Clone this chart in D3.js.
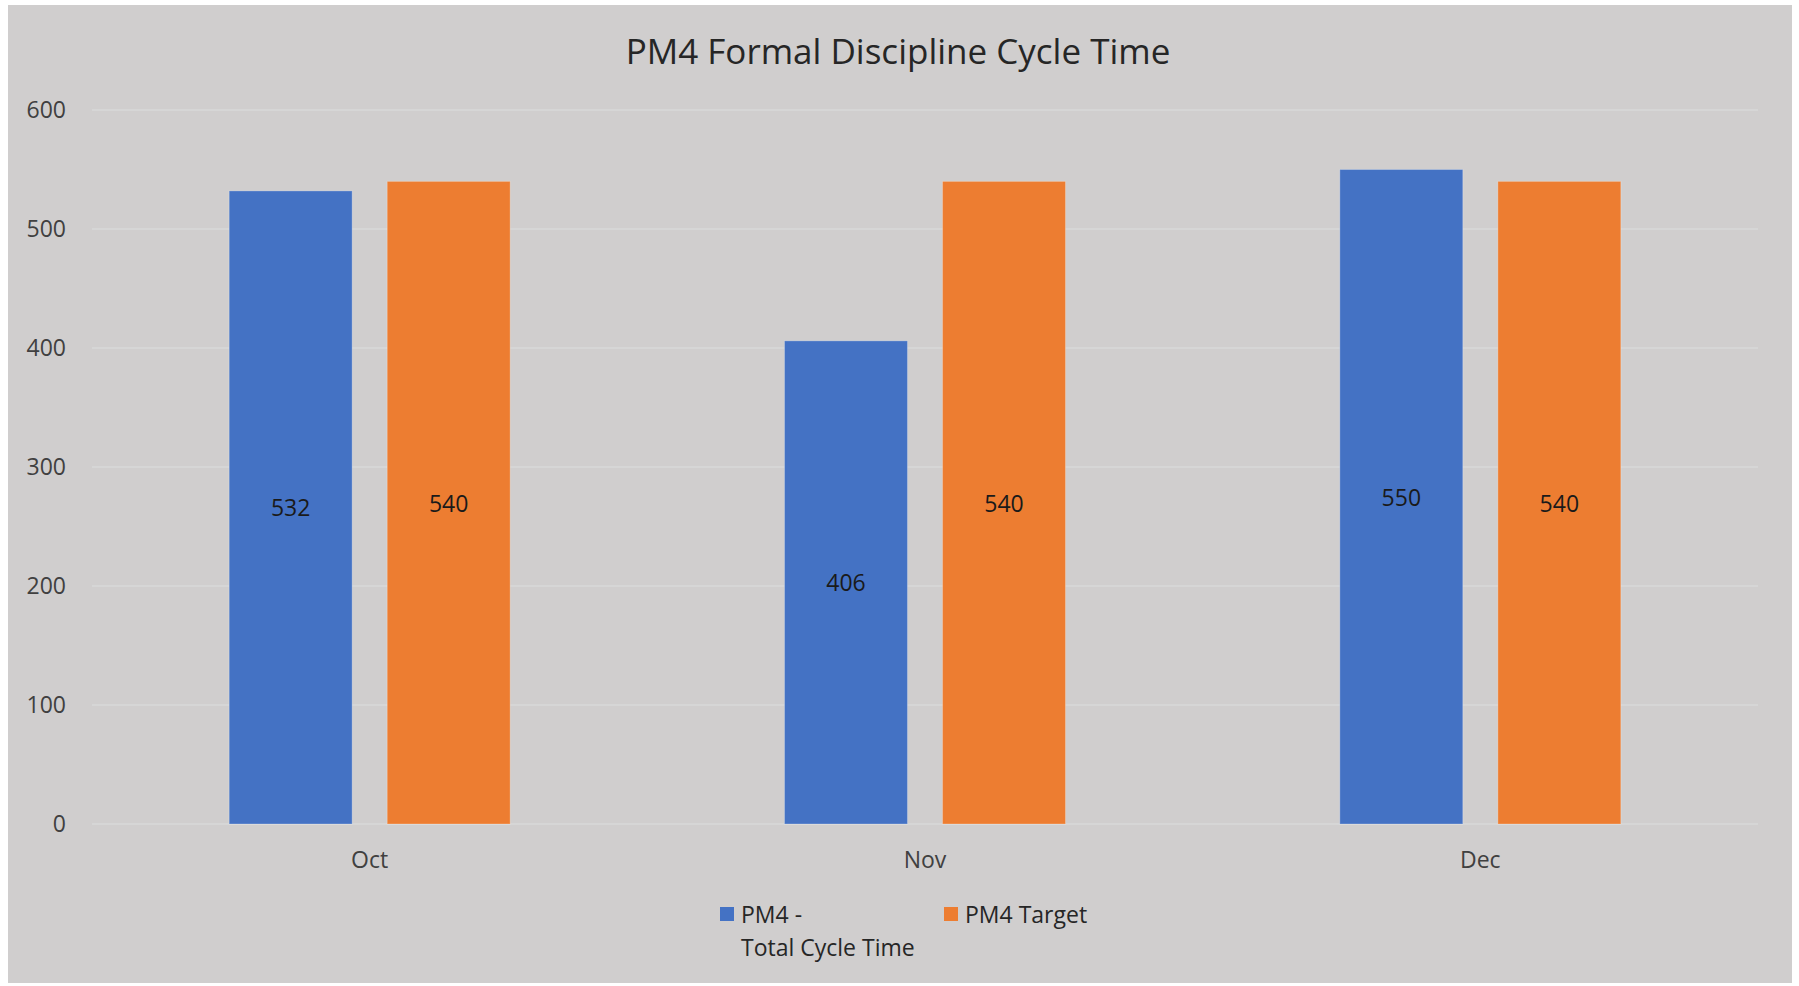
<!DOCTYPE html>
<html lang="en">
<head>
<meta charset="utf-8">
<title>PM4 Formal Discipline Cycle Time</title>
<script src="https://d3js.org/d3.v7.min.js"></script>
<style>
  body { margin: 0; background: #fff; }
  text { font-family: "Open Sans", sans-serif; }
</style>
</head>
<body>
<script>
// data
var months = ["Oct", "Nov", "Dec"];
var seriesNames = ["PM4 - Total Cycle Time", "PM4 Target"];
var cycleTime = [532, 406, 550];
var target = [540, 540, 540];
var yTicks = [0, 100, 200, 300, 400, 500, 600];
var colors = ["#4472C4", "#ED7D31"];

var width = 1799, height = 986;

var svg = d3.select("body").append("svg")
    .attr("width", width)
    .attr("height", height);

// chart area
svg.append("rect")
    .attr("x", 8).attr("y", 5)
    .attr("width", 1784).attr("height", 978)
    .attr("fill", "#D0CECE");

svg.append("text")
    .attr("x", 898).attr("y", 50)
    .attr("text-anchor", "middle")
    .attr("dominant-baseline", "central")
    .attr("font-size", 35)
    .attr("fill", "#262626")
    .text("PM4 Formal Discipline Cycle Time");

var x = d3.scaleBand()
    .domain(months)
    .range([92, 1758]);

var xInner = d3.scaleBand()
    .domain(seriesNames)
    .range([0, x.bandwidth()])
    .paddingInner(0.222)
    .paddingOuter(0.868);

var y = d3.scaleLinear()
    .domain([0, 600])
    .range([824, 110]);

// gridlines
svg.append("g")
    .selectAll("line")
    .data(yTicks)
    .enter().append("line")
    .attr("x1", 92).attr("x2", 1758)
    .attr("y1", function(d) { return y(d); })
    .attr("y2", function(d) { return y(d); })
    .attr("stroke", "#D9D9D9")
    .attr("stroke-width", 1.5);

// y axis labels
var yAxis = svg.append("g")
    .attr("transform", "translate(66,0)")
    .call(d3.axisLeft(y).tickValues(yTicks).tickSize(0).tickPadding(0));
yAxis.select(".domain").remove();
yAxis.selectAll("text")
    .attr("font-family", "Open Sans")
    .attr("font-size", 23)
    .attr("fill", "#404040");

// x axis labels
var xAxis = svg.append("g")
    .attr("transform", "translate(0,852)")
    .call(d3.axisBottom(x).tickSize(0).tickPadding(0));
xAxis.select(".domain").remove();
xAxis.selectAll("text")
    .attr("font-family", "Open Sans")
    .attr("font-size", 23)
    .attr("fill", "#404040");

var rows = months.map(function(m, i) {
    return { month: m, values: [cycleTime[i], target[i]] };
});

var groups = svg.append("g")
    .selectAll("g")
    .data(rows)
    .enter().append("g")
    .attr("transform", function(d) { return "translate(" + x(d.month) + ",0)"; });

var bars = groups.selectAll("g")
    .data(function(d) {
        return d.values.map(function(v, j) { return { name: seriesNames[j], value: v, idx: j }; });
    })
    .enter().append("g");

bars.append("rect")
    .attr("x", function(d) { return xInner(d.name); })
    .attr("width", xInner.bandwidth())
    .attr("y", function(d) { return y(d.value); })
    .attr("height", function(d) { return y(0) - y(d.value); })
    .attr("fill", function(d) { return colors[d.idx]; })
    .attr("stroke", "rgba(255,255,255,0.25)")
    .attr("stroke-width", 1);

bars.append("text")
    .attr("x", function(d) { return xInner(d.name) + xInner.bandwidth() / 2; })
    .attr("y", function(d) { return (y(d.value) + y(0)) / 2; })
    .attr("text-anchor", "middle")
    .attr("dominant-baseline", "central")
    .attr("font-size", 23)
    .attr("fill", "#1a1a1a")
    .text(function(d) { return d.value; });

// legend
var legend = svg.append("g");
var legendItems = [
    { x: 720, lines: ["PM4 -", "Total Cycle Time"], color: colors[0] },
    { x: 944, lines: ["PM4 Target"], color: colors[1] }
];
legendItems.forEach(function(item) {
    legend.append("rect")
        .attr("x", item.x).attr("y", 907)
        .attr("width", 14).attr("height", 14)
        .attr("fill", item.color);
    item.lines.forEach(function(line, k) {
        legend.append("text")
            .attr("x", item.x + 21)
            .attr("y", 914 + k * 33)
            .attr("dominant-baseline", "central")
            .attr("font-size", 23)
            .attr("fill", "#262626")
            .text(line);
    });
});
</script>
</body>
</html>
